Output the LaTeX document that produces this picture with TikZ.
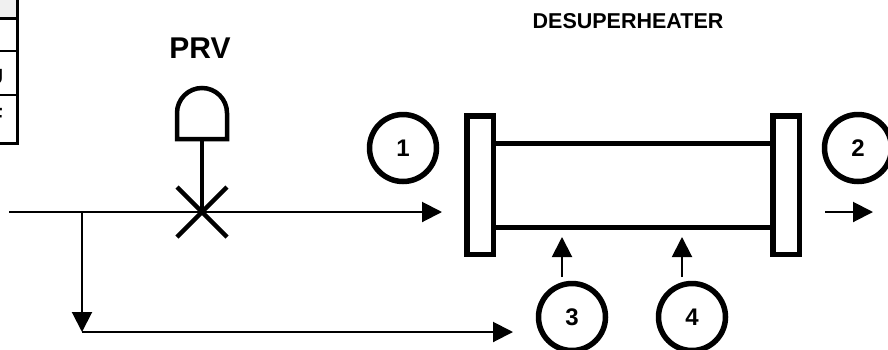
\documentclass[tikz,border=0pt]{standalone}
\usepackage{fontspec}
\setmainfont{Liberation Sans}
\usetikzlibrary{arrows.meta}
\tikzset{
  thinline/.style={line width=2pt},
  thickline/.style={line width=4.5pt},
  flow/.style={thinline,-{Triangle[length=20pt,width=20pt]}},
  flange/.style={draw,line width=5.5pt,minimum width=26.5pt,minimum height=138.5pt,inner sep=0pt},
  stream/.style={draw,circle,line width=5.5pt,minimum size=67pt,inner sep=0pt,font=\bfseries\fontsize{24}{27}\selectfont},
  title/.style={font=\bfseries\fontsize{21.5}{25}\selectfont},
}
\begin{document}
\begin{tikzpicture}[x=1pt,y=-1pt]
\useasboundingbox (0,0) rectangle (888,349);
% partial table at top-left
\fill[black!6] (0,0) rectangle (17,17);
\draw[line width=3pt] (0,18) -- (17,18);
\draw[thinline] (0,51) -- (17,51);
\draw[thinline] (0,95) -- (17,95);
\draw[line width=3pt] (0,143) -- (17,143);
\draw[line width=3pt] (17,0) -- (17,144.5);
\node[anchor=east,inner sep=0pt,font=\bfseries\fontsize{22}{24}\selectfont] (tj) at (3.5,77) {BTU};
\node[anchor=east,inner sep=0pt,font=\bfseries\fontsize{22}{24}\selectfont] (tf) at (3,116) {°F};
% labels
\node[title] (desup) at (628,21) {DESUPERHEATER};
\node[font=\bfseries\fontsize{30}{34}\selectfont] (prv) at (200,48) {PRV};
% PRV actuator and valve
\coordinate (valve) at (202,212);
\draw[thickline] (177,139) -- (177,113) arc[start angle=180,end angle=0,radius=25pt] -- (227,139) -- cycle;
\draw[thickline] (202,139) -- (valve);
\draw[thickline] (177,187) -- (227,237);
\draw[thickline] (177,237) -- (227,187);
% desuperheater body
\node[flange] (fl) at (480,185) {};
\node[flange] (fr) at (786,185) {};
\draw[line width=5pt] (fl.east |- 0,143) -- (fr.west |- 0,143);
\draw[line width=5pt] (fl.east |- 0,227) -- (fr.west |- 0,227);
% stream markers
\node[stream] (s1) at (403,148) {1};
\node[stream] (s2) at (858,148) {2};
\node[stream] (s3) at (572,317) {3};
\node[stream] (s4) at (692,317) {4};
% flows
\coordinate (in) at (9,212);
\coordinate (tee) at (82,212);
\coordinate (corner) at (82,332);
\coordinate (bypassend) at (513,332);
\coordinate (in1) at (442,212);
\coordinate (out2a) at (825,212);
\coordinate (out2b) at (873,212);
\coordinate (w3a) at (562,277);
\coordinate (w3b) at (562,237);
\coordinate (w4a) at (682,277);
\coordinate (w4b) at (682,237);
\draw[flow] (in) -- (in1);
\draw[flow] (tee) -- (corner);
\draw[flow] (corner) -- (bypassend);
\draw[flow] (out2a) -- (out2b);
\draw[flow] (w3a) -- (w3b);
\draw[flow] (w4a) -- (w4b);
\end{tikzpicture}
\end{document}
